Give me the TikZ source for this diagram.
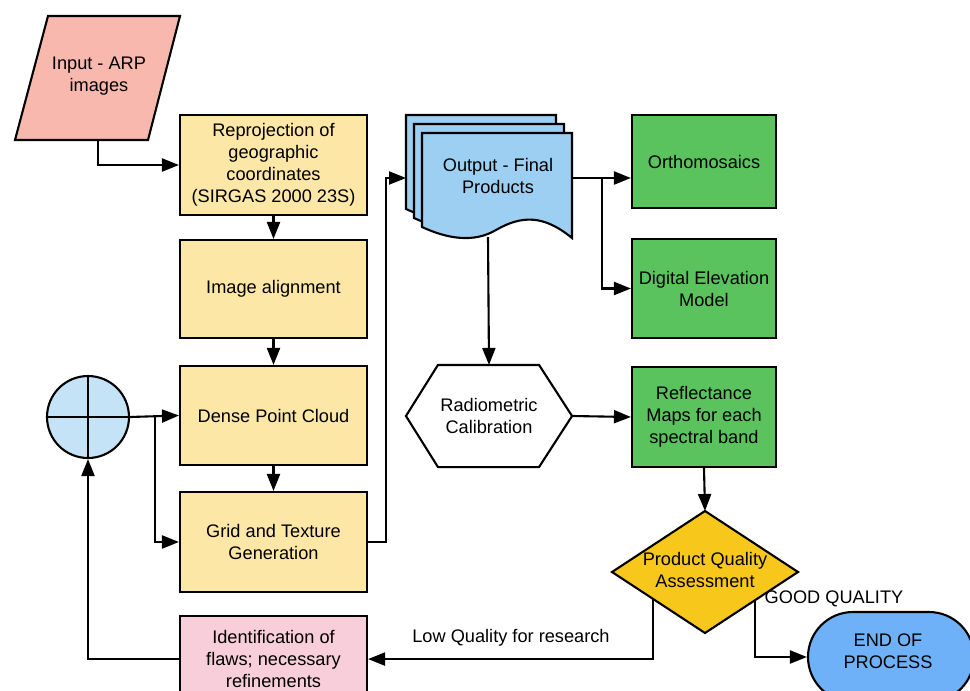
\documentclass[tikz,border=0pt]{standalone}
\usepackage{fontspec}
\setmainfont{Liberation Sans}
\usetikzlibrary{arrows.meta}
\definecolor{inpk}{HTML}{F8B8AE}
\definecolor{yel}{HTML}{FDE7A6}
\definecolor{pnk}{HTML}{F8CEDA}
\definecolor{cblue}{HTML}{C4E3F6}
\definecolor{oblue}{HTML}{9CCFF2}
\definecolor{grn}{HTML}{5BC35E}
\definecolor{gold}{HTML}{F8C71C}
\definecolor{eblue}{HTML}{6FB1F8}
\begin{document}
\begin{tikzpicture}[x=1pt,y=-1pt,line width=2.1pt,
  font=\fontsize{18.2}{22}\selectfont,
  box/.style={draw,rectangle,align=center,inner sep=1pt,minimum width=187pt},
  gbox/.style={draw,rectangle,align=center,inner sep=1pt,minimum width=144pt,fill=grn},
  txt/.style={align=center,inner sep=0pt},
  conn/.style={line width=2.1pt,-{Triangle[length=17pt,width=13pt]}}]
\useasboundingbox (0,0) rectangle (970,691);
\fill[white] (0,0) rectangle (970,691);

% input parallelogram
\draw[fill=inpk] (48,16) -- (180,16) -- (148,140) -- (15,140) -- cycle;
\node[txt] (inp) at (99,76) {Input - ARP\\images};
\coordinate (inpB) at (98,140);

% yellow chain
\node[box,fill=yel,minimum height=100pt] (rep) at (273.5,165) {Reprojection of\\geographic\\coordinates\\(SIRGAS 2000 23S)};
\node[box,fill=yel,minimum height=98pt] (ali) at (273.5,289) {Image alignment};
\node[box,fill=yel,minimum height=99pt] (dense) at (273.5,415.5) {Dense Point Cloud};
\node[box,fill=yel,minimum height=100pt] (grid) at (273.5,542) {Grid and Texture\\Generation};
\node[box,fill=pnk,minimum height=86pt,anchor=north] (ident) at (273.5,615) {Identification of\\flaws; necessary\\refinements};

% circle
\node[circle,draw,fill=cblue,minimum size=82pt,inner sep=0pt] (circ) at (88,417) {};
\draw (circ.north) -- (circ.south) (circ.west) -- (circ.east);

% output multi-document
\foreach \dx/\dy in {-16/-18,-8/-9,0/0}{
  \begin{scope}[shift={(422+\dx,133+\dy)}]
  \draw[fill=oblue] (0,0) -- (150,0) -- (150,105)
    .. controls (122,82) and (100,82) .. (74,97)
    .. controls (52,110) and (26,106) .. (0,94) -- cycle;
  \end{scope}
}
\node[txt] (out) at (498,176) {Output - Final\\Products};
\coordinate (outL) at (406,178);
\coordinate (outR) at (572,178);
\coordinate (outB) at (488,237);

% green boxes
\node[gbox,minimum height=93pt] (ortho) at (704,161.5) {Orthomosaics};
\node[gbox,minimum height=99pt] (dem) at (704,288.5) {Digital Elevation\\Model};
\node[gbox,minimum height=100pt] (refl) at (704,417) {Reflectance\\Maps for each\\spectral band};

% hexagon
\node[txt,minimum width=164pt,minimum height=100pt] (hex) at (489,416) {};
\draw[fill=white] ([xshift=32pt]hex.north west) -- ([xshift=-33pt]hex.north east) -- (hex.east)
  -- ([xshift=-33pt]hex.south east) -- ([xshift=32pt]hex.south west) -- (hex.west) -- cycle;
\node[txt] (hextxt) at (489,416) {Radiometric\\Calibration};

% diamond
\coordinate (pqa) at (705,572);
\draw[fill=gold] (705,511) -- (798,572) -- (705,633) -- (612,572) -- cycle;
\node[txt] (pqatxt) at (705,570) {Product Quality\\Assessment};
\coordinate (pqaT) at (705,511);
\coordinate (pqaL) at (653,598);
\coordinate (pqaR) at (755,600);

% end
\node[draw,fill=eblue,rectangle,rounded corners=45pt,minimum width=166pt,minimum height=90pt] (endn) at (891,657) {};
\node[txt] (endtxt) at (888,651) {END OF\\PROCESS};

% connectors
\draw[conn] (inpB) |- (rep.west);
\draw[conn] (rep.south) -- (ali.north);
\draw[conn] (ali.south) -- (dense.north);
\draw[conn] (dense.south) -- (grid.north);
\draw[conn] (circ.east) -- (dense.west);
\coordinate (br1) at (155,417);
\draw[conn] (br1) |- (grid.west);
\draw[conn] (ident.west) -| (circ.south);
\draw[conn] (grid.east) -- ++(18,0) |- (outL);
\draw[conn] (outR) -- (outR -| ortho.west);
\coordinate (br2) at (602,178);
\draw[conn] (br2) |- (dem.west);
\draw[conn] (outB) -- (hex.north);
\draw[conn] (hex.east) -- (refl.west);
\draw[conn] (refl.south) -- (pqaT);
\draw[conn] (pqaL) |- (ident.east);
\draw[conn] (pqaR) |- (endn.west);

\node[txt] (lowlbl) at (511,638) {Low Quality for research};
\node[txt] (goodlbl) at (834,599) {GOOD QUALITY};
\end{tikzpicture}
\end{document}
